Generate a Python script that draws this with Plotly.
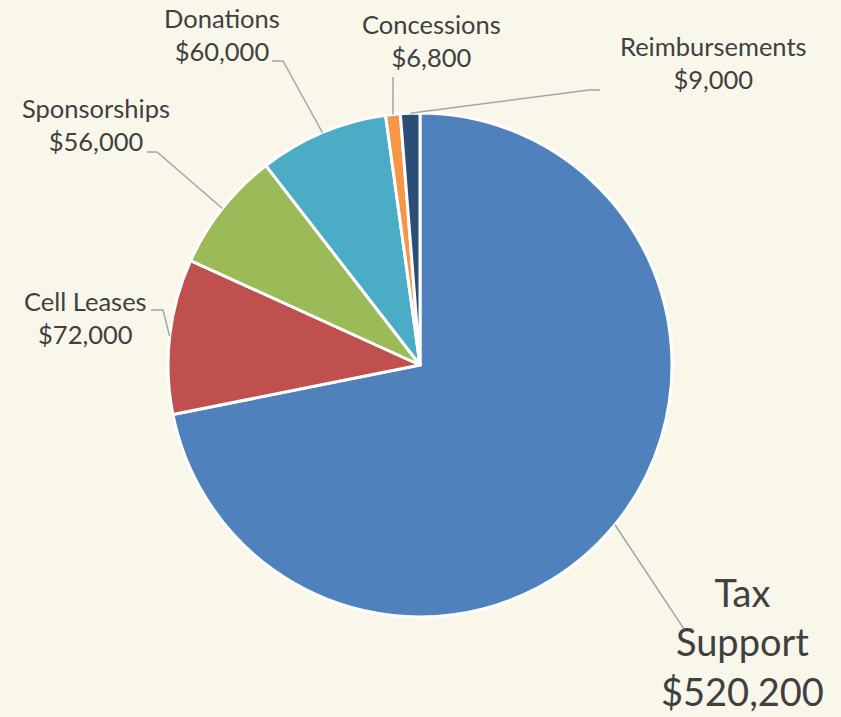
import math
import plotly.graph_objects as go

# ---- data ----
categories = ["Tax Support", "Cell Leases", "Sponsorships", "Donations", "Concessions", "Reimbursements"]
values = [520200, 72000, 56000, 60000, 6800, 9000]
label_lines = [["Tax", "Support"], ["Cell Leases"], ["Sponsorships"], ["Donations"], ["Concessions"], ["Reimbursements"]]

# ---- style / layout ----
colors = ["#4F81BD", "#C0504D", "#9BBB59", "#4BACC6", "#F79646", "#2C4D75"]
W, H = 841, 717
CX, CY, R = 420, 365, 252
BG = "#F9F7EA"
TXT = "#404040"
LINE = "#A6A6A6"
# label centre (px), elbow (px), end of horizontal tick (px), font size
label_pos = [(742, 641), (85, 318), (96, 124), (222, 35), (431, 41), (713, 62)]
elbows = [(684, 629), (163, 310), (157, 152), (283, 61), (393, 77), (589, 90)]
ends = [(693, 629), (151, 310), (147, 152), (272, 61), (393, 77), (600, 90)]
font_sizes = [38, 25.5, 25.5, 25.5, 25.5, 25.5]


def px(x):
    return x / W


def py(y):
    return 1 - y / H


fig = go.Figure(go.Pie(
    labels=categories, values=values, sort=False, direction="clockwise", rotation=0,
    marker=dict(colors=colors, line=dict(color="white", width=3)),
    textinfo="none", hoverinfo="label+value", showlegend=False,
    domain=dict(x=[px(CX - R), px(CX + R)], y=[py(CY + R), py(CY - R)]),
))

total = sum(values)
cum = 0
shapes, annotations = [], []
for i, v in enumerate(values):
    mid = (cum + v / 2) / total * 2 * math.pi
    cum += v
    ax = CX + R * math.sin(mid)
    ay = CY - R * math.cos(mid)
    ex, ey = elbows[i]
    tx, ty = ends[i]
    path = f"M {px(ax)} {py(ay)} L {px(ex)} {py(ey)} L {px(tx)} {py(ty)}"
    shapes.append(dict(type="path", xref="paper", yref="paper", path=path,
                       line=dict(color=LINE, width=1.5)))
    text = "<br>".join(label_lines[i] + [f"${v:,.0f}"])
    lx, ly = label_pos[i]
    annotations.append(dict(x=px(lx), y=py(ly), xref="paper", yref="paper", text=text,
                            showarrow=False, xanchor="center", yanchor="middle",
                            font=dict(family="Lato", size=font_sizes[i], color=TXT)))

fig.update_layout(
    width=W, height=H, margin=dict(l=0, r=0, t=0, b=0),
    paper_bgcolor=BG, plot_bgcolor=BG,
    shapes=shapes, annotations=annotations,
)
fig.write_html(
    "out.html",
    config={"displayModeBar": False},
    post_script="document.body.style.margin='0';document.body.style.background='" + BG + "';",
)
